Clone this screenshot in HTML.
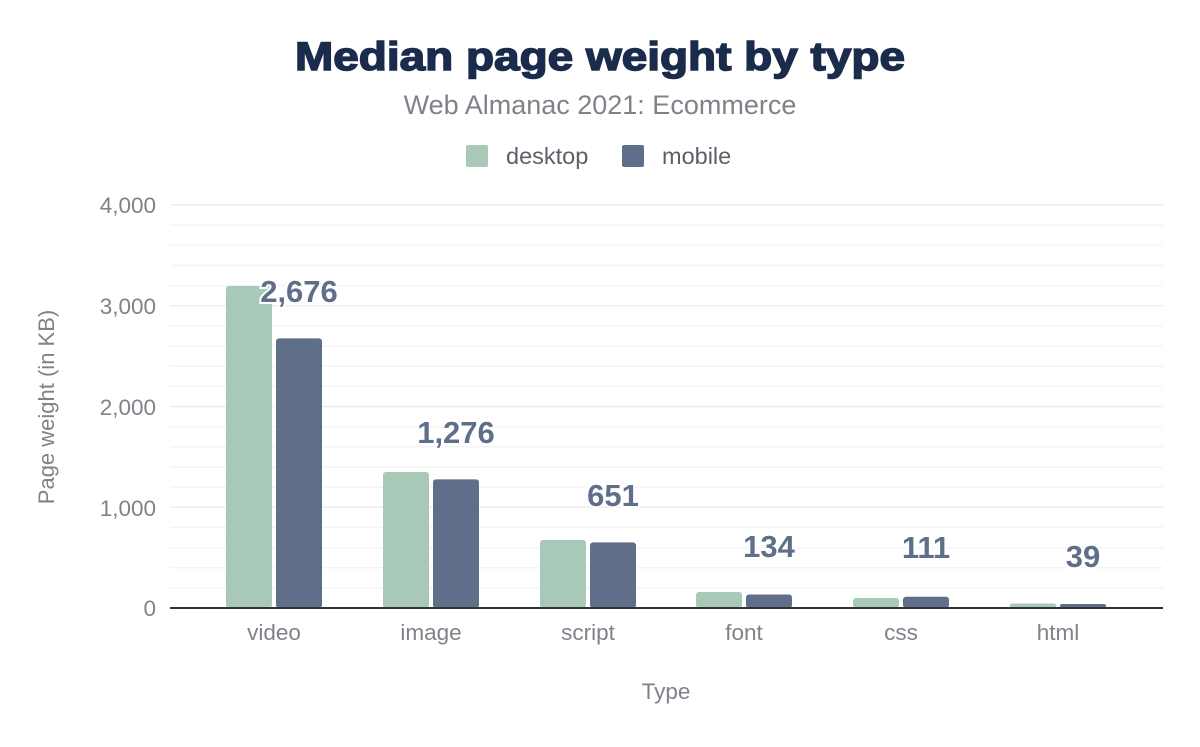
<!DOCTYPE html>
<html><head><style>
body{margin:0;background:#fff;}
svg text{font-family:"Liberation Sans",Arial,sans-serif;}
</style></head><body>
<svg width="1200" height="742" viewBox="0 0 1200 742" xmlns="http://www.w3.org/2000/svg">
<rect width="1200" height="742" fill="#fff"/>
<text x="295" y="70" textLength="610" lengthAdjust="spacingAndGlyphs" font-size="40" font-weight="bold" fill="#1a2b4c" stroke="#1a2b4c" stroke-width="1.5">Median page weight by type</text>
<text x="600" y="114" text-anchor="middle" font-size="27" fill="#7f8289">Web Almanac 2021: Ecommerce</text>
<rect x="466" y="145" width="22" height="22" rx="2" fill="#a8c9b8"/>
<text x="506" y="164" font-size="23.5" fill="#5c6069">desktop</text>
<rect x="622" y="145" width="22" height="22" rx="2" fill="#5f6f8a"/>
<text x="662" y="164" font-size="23.5" fill="#5c6069">mobile</text>
<g stroke="#f4f4f4" stroke-width="1.5">
<line x1="170" x2="1163" y1="205" y2="205" stroke="#ededed"/>
<line x1="170" x2="1163" y1="225.2" y2="225.2"/>
<line x1="170" x2="1163" y1="245.3" y2="245.3"/>
<line x1="170" x2="1163" y1="265.5" y2="265.5"/>
<line x1="170" x2="1163" y1="285.6" y2="285.6"/>
<line x1="170" x2="1163" y1="305.8" y2="305.8" stroke="#ededed"/>
<line x1="170" x2="1163" y1="325.9" y2="325.9"/>
<line x1="170" x2="1163" y1="346.1" y2="346.1"/>
<line x1="170" x2="1163" y1="366.2" y2="366.2"/>
<line x1="170" x2="1163" y1="386.4" y2="386.4"/>
<line x1="170" x2="1163" y1="406.5" y2="406.5" stroke="#ededed"/>
<line x1="170" x2="1163" y1="426.7" y2="426.7"/>
<line x1="170" x2="1163" y1="446.8" y2="446.8"/>
<line x1="170" x2="1163" y1="467" y2="467"/>
<line x1="170" x2="1163" y1="487.1" y2="487.1"/>
<line x1="170" x2="1163" y1="507.3" y2="507.3" stroke="#ededed"/>
<line x1="170" x2="1163" y1="527.4" y2="527.4"/>
<line x1="170" x2="1163" y1="547.6" y2="547.6"/>
<line x1="170" x2="1163" y1="567.7" y2="567.7"/>
<line x1="170" x2="1163" y1="587.9" y2="587.9"/>
</g>
<g font-size="22.5" fill="#7f8289" text-anchor="end">
<text x="156" y="213">4,000</text>
<text x="156" y="314">3,000</text>
<text x="156" y="415">2,000</text>
<text x="156" y="516">1,000</text>
<text x="156" y="616">0</text>
</g>
<text transform="translate(54,407) rotate(-90)" text-anchor="middle" font-size="22" fill="#7f8289">Page weight (in KB)</text>
<g>
<rect x="226" y="286" width="46" height="322" rx="3" fill="#a8c9b8"/>
<rect x="276" y="338.4" width="46" height="269.6" rx="3" fill="#5f6f8a"/>
<rect x="383" y="472" width="46" height="136" rx="3" fill="#a8c9b8"/>
<rect x="433" y="479.4" width="46" height="128.6" rx="3" fill="#5f6f8a"/>
<rect x="540" y="540" width="46" height="68" rx="3" fill="#a8c9b8"/>
<rect x="590" y="542.4" width="46" height="65.6" rx="3" fill="#5f6f8a"/>
<rect x="696" y="592" width="46" height="16" rx="3" fill="#a8c9b8"/>
<rect x="746" y="594.5" width="46" height="13.5" rx="3" fill="#5f6f8a"/>
<rect x="853" y="598" width="46" height="10" rx="3" fill="#a8c9b8"/>
<rect x="903" y="596.8" width="46" height="11.2" rx="3" fill="#5f6f8a"/>
<rect x="1010" y="603.5" width="46" height="4.5" rx="2" fill="#a8c9b8"/>
<rect x="1060" y="604" width="46" height="4" rx="2" fill="#5f6f8a"/>
</g>
<line x1="170" x2="1163" y1="608" y2="608" stroke="#333" stroke-width="2"/>
<g font-size="31" font-weight="bold" fill="#5f6f8a" text-anchor="middle" stroke="#fff" stroke-width="4" paint-order="stroke">
<text x="299" y="302">2,676</text>
<text x="456" y="443">1,276</text>
<text x="613" y="506">651</text>
<text x="769" y="557">134</text>
<text x="926" y="558">111</text>
<text x="1083" y="567">39</text>
</g>
<g font-size="22.5" fill="#7f8289" text-anchor="middle">
<text x="274" y="640">video</text>
<text x="431" y="640">image</text>
<text x="588" y="640">script</text>
<text x="744" y="640">font</text>
<text x="901" y="640">css</text>
<text x="1058" y="640">html</text>
</g>
<text x="666" y="699" text-anchor="middle" font-size="22.5" fill="#7f8289">Type</text>
</svg>
</body></html>
